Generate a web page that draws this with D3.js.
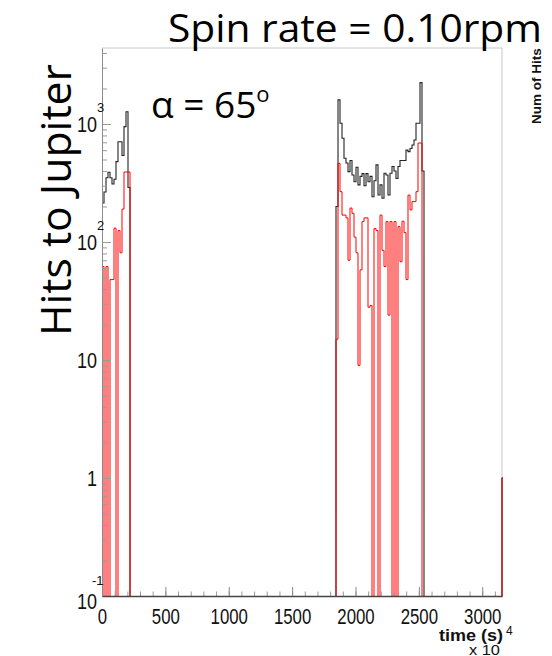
<!DOCTYPE html>
<html>
<head>
<meta charset="utf-8">
<script src="https://cdn.jsdelivr.net/npm/d3@7.9.0/dist/d3.min.js"></script>
<style>
  body { margin: 0; background: #fff; }
  svg { display: block; }
</style>
</head>
<body>
<div id="chart"></div>
<script>
// time in units of 10^4 s, one bin = 1/200 of a year
const binWidth = 15.78;
const nBins = 201;

// hits per bin, first visit (bins 0..13)
const leftStart = 0;
const blackLeft = [214, 265, 350, 390, 350, 310, 340, 480, 708, 708, 540, 950, 1270, 290];
const redLeft   = [62, 0, 62, 0, 48, 48, 131, 0, 125, 81, 190, 392, 392, 392];

// second visit (bins 117..160)
const rightStart = 117;
const blackRight = [200, 1600, 1014, 757, 512, 467, 395, 490, 370, 324, 430, 305, 360, 380, 300,
                    380, 324, 360, 242, 330, 450, 250, 305, 235, 382, 370, 250, 382, 436, 400,
                    345, 436, 490, 490, 490, 600, 583, 620, 664, 732, 1014, 1014, 2240, 400];
const redRight   = [15, 464, 267, 169, 169, 160, 70, 194, 175, 110, 81, 9, 58, 149, 160,
                    160, 28, 29, 0, 130, 125, 0, 169, 85, 62, 149, 24, 149, 0, 149,
                    0, 135, 68, 150, 120, 48, 250, 187, 220, 220, 267, 690, 690, 0];

// last bin at the end of the year
const tailStart = 200;
const blackTail = [1];
const redTail   = [1];

const xMajorTicks = [0, 500, 1000, 1500, 2000, 2500, 3000];
const xMinorTicks = d3.range(0, 3200, 100);
const yMajorTicks = [0.1, 1, 10, 100, 1000];
const yBase = ["10", "1", "10", "10", "10"];
const yExp  = ["-1", "", "", "2", "3"];

const width = 552, height = 656;
const plot = { left: 102, right: 502, top: 48, bottom: 596 };

const svg = d3.select("#chart").append("svg")
    .attr("width", width)
    .attr("height", height);

const x = d3.scaleLinear()
    .domain([0, 3156])
    .range([plot.left, plot.right]);

const y = d3.scaleLog()
    .domain([0.1, Math.pow(10, 3.644)])
    .range([plot.bottom, plot.top]);

function fillBins(parts) {
    const arr = new Array(nBins).fill(0);
    parts.forEach(([start, vals]) => vals.forEach((v, i) => { arr[start + i] = v; }));
    return arr;
}

const blackHist = fillBins([[leftStart, blackLeft], [rightStart, blackRight], [tailStart, blackTail]]);
const redHist = fillBins([[leftStart, redLeft], [rightStart, redRight], [tailStart, redTail]]);

function histPoints(arr) {
    const pts = [{ t: 0, v: 0 }];
    arr.forEach((v, i) => pts.push({ t: i * binWidth, v: v }));
    pts.push({ t: arr.length * binWidth, v: 0 });
    return pts;
}

const step = d3.line()
    .x(d => x(d.t))
    .y(d => d.v > 0 ? y(d.v) : plot.bottom + 2)
    .curve(d3.curveStepAfter);

svg.append("clipPath")
    .attr("id", "frame")
    .append("rect")
    .attr("x", plot.left)
    .attr("y", plot.top)
    .attr("width", plot.right - plot.left + 1)
    .attr("height", plot.bottom - plot.top + 0.5);

// frame top & right
svg.append("path")
    .attr("d", `M${plot.left},${plot.top}H${plot.right}V${plot.bottom}`)
    .attr("fill", "none")
    .attr("stroke", "#c8c8c8")
    .attr("stroke-width", 1);

const hist = svg.append("g").attr("clip-path", "url(#frame)");

hist.append("path")
    .attr("d", step(histPoints(blackHist)))
    .attr("fill", "none")
    .attr("stroke", "#222")
    .attr("stroke-width", 1.1);

hist.append("path")
    .attr("d", step(histPoints(redHist)))
    .attr("fill", "none")
    .attr("stroke", "#ff0000")
    .attr("stroke-width", 1);

// y axis (ticks inside the frame)
const minorY = [];
for (let d = -1; d <= 3; d++) {
    for (let k = 2; k <= 9; k++) {
        const v = k * Math.pow(10, d);
        if (v < y.domain()[1]) minorY.push(v);
    }
}

svg.append("g")
    .attr("class", "axis")
    .attr("transform", `translate(${plot.left},0)`)
    .call(d3.axisRight(y).tickValues(minorY).tickSize(5).tickSizeOuter(0).tickFormat(""))
    .call(g => g.select(".domain").remove());

svg.append("g")
    .attr("class", "axis")
    .attr("transform", `translate(${plot.left},0)`)
    .call(d3.axisRight(y).tickValues(yMajorTicks).tickSize(9).tickSizeOuter(0).tickFormat(""))
    .call(g => g.select(".domain").attr("stroke", "#8c8c8c"));

svg.selectAll(".axis .tick line").attr("stroke", "#9a9a9a");

// y tick labels, ROOT style 10^n
yMajorTicks.forEach((v, i) => {
    const yy = y(v) + (v === 0.1 ? 5 : 0);
    svg.append("g")
        .attr("transform", `translate(97,${yy})`)
        .append("text")
        .attr("transform", "scale(0.9,1.08)")
        .attr("text-anchor", "end")
        .attr("dy", "0.36em")
        .style("font-family", "'Liberation Sans', Arial, sans-serif")
        .style("font-size", "20px")
        .attr("fill", "#111")
        .text(yBase[i]);
    if (yExp[i]) {
        svg.append("text")
            .attr("x", yExp[i] === "-1" ? 92 : 97)
            .attr("y", y(v) - (v === 0.1 ? 11 : 12))
            .style("font-family", "'Liberation Sans', Arial, sans-serif")
            .style("font-size", "13px")
            .attr("fill", "#111")
            .text(yExp[i]);
    }
});

// x axis
svg.append("g")
    .attr("transform", `translate(0,${plot.bottom})`)
    .call(d3.axisBottom(x).tickValues(xMinorTicks).tickSize(-4.5).tickSizeOuter(0).tickFormat(""))
    .call(g => g.select(".domain").remove())
    .call(g => g.selectAll(".tick line").attr("stroke", "#9a9a9a"));

svg.append("g")
    .attr("transform", `translate(0,${plot.bottom})`)
    .call(d3.axisBottom(x).tickValues(xMajorTicks).tickSize(-9).tickSizeOuter(0).tickPadding(12)
        .tickFormat(d3.format("d")))
    .call(g => g.select(".domain").attr("stroke", "#444").attr("stroke-width", 1.3))
    .call(g => g.selectAll(".tick line").attr("stroke", "#8a8a8a"))
    .call(g => g.selectAll("text")
        .attr("transform", "scale(0.84,1.08)")
        .attr("fill", "#111")
        .style("font-family", "'Liberation Sans', Arial, sans-serif")
        .style("font-size", "20px"));

// axis titles
svg.append("text")
    .attr("x", 439)
    .attr("y", 641)
    .attr("textLength", 64)
    .attr("lengthAdjust", "spacingAndGlyphs")
    .style("font-family", "'Liberation Sans', Arial, sans-serif")
    .style("font-size", "17px")
    .style("font-weight", "bold")
    .attr("fill", "#111")
    .text("time (s)");

svg.append("text")
    .attr("x", 506)
    .attr("y", 635)
    .style("font-family", "'Liberation Sans', Arial, sans-serif")
    .style("font-size", "12px")
    .attr("fill", "#111")
    .text("4");

svg.append("text")
    .attr("x", 469)
    .attr("y", 655)
    .attr("textLength", 31)
    .attr("lengthAdjust", "spacingAndGlyphs")
    .style("font-family", "'Liberation Sans', Arial, sans-serif")
    .style("font-size", "14px")
    .attr("fill", "#111")
    .text("x 10");

svg.append("text")
    .attr("transform", "translate(541,86) rotate(-90)")
    .attr("text-anchor", "middle")
    .style("font-family", "'Liberation Sans', Arial, sans-serif")
    .style("font-size", "13.5px")
    .style("font-weight", "bold")
    .attr("fill", "#111")
    .text("Num of Hits");

// slide annotations
svg.append("text")
    .attr("x", 168)
    .attr("y", 42)
    .attr("textLength", 374)
    .attr("lengthAdjust", "spacingAndGlyphs")
    .style("font-family", "'Open Sans', 'Noto Sans', sans-serif")
    .style("font-size", "38px")
    .attr("fill", "#000")
    .text("Spin rate = 0.10rpm");

const alpha = svg.append("text")
    .attr("x", 151)
    .attr("y", 118)
    .style("font-family", "'Open Sans', 'Noto Sans', sans-serif")
    .style("font-size", "37px")
    .attr("fill", "#000");
alpha.append("tspan").text("\u03b1 = 65");
alpha.append("tspan")
    .attr("dy", -16)
    .style("font-size", "22px")
    .text("o");

svg.append("text")
    .attr("transform", "translate(71,200) rotate(-90)")
    .attr("text-anchor", "middle")
    .attr("textLength", 272)
    .attr("lengthAdjust", "spacingAndGlyphs")
    .style("font-family", "'Open Sans', 'Noto Sans', sans-serif")
    .style("font-size", "42px")
    .attr("fill", "#000")
    .text("Hits to Jupiter");
</script>
</body>
</html>
